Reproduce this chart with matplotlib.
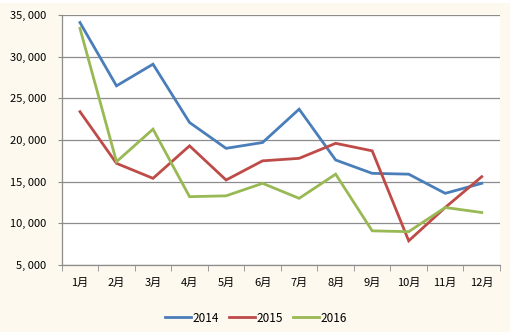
import matplotlib.pyplot as plt
from matplotlib.patches import Rectangle
from matplotlib.ticker import FuncFormatter, FixedLocator

plt.rcParams['font.family'] = ['Liberation Sans Narrow', 'Noto Sans CJK SC', 'DejaVu Sans']

# monthly figures, three years
months = ['1月', '2月', '3月', '4月', '5月', '6月', '7月', '8月', '9月', '10月', '11月', '12月']
y2014 = [34100, 26500, 29100, 22100, 19000, 19700, 23700, 17600, 16000, 15900, 13600, 14800]
y2015 = [23400, 17200, 15400, 19300, 15200, 17500, 17800, 19600, 18700, 7900, 11900, 15600]
y2016 = [33400, 17400, 21300, 13200, 13300, 14800, 13000, 15900, 9100, 9000, 11900, 11300]

series = [('2014', y2014, '#4A7EBB'),
          ('2015', y2015, '#BE4B48'),
          ('2016', y2016, '#98B954')]

fig = plt.figure(figsize=(5.12, 3.32), dpi=100, facecolor='white')
fig.patches.append(Rectangle((0, 0), 510 / 512, 329 / 332, transform=fig.transFigure,
                             facecolor='#FDF9EE', edgecolor='none', zorder=-10))
ax = fig.add_axes([0.1205, 0.2018, 0.8561, 0.753])
ax.set_facecolor('white')

x = range(len(months))
for name, vals, col in series:
    ax.plot(x, vals, color=col, linewidth=2.0, label=name, solid_joinstyle='miter')

ax.set_xlim(-0.5, 11.5)
ax.set_ylim(5000, 35000)
ax.set_yticks(range(5000, 35001, 5000))
ax.yaxis.set_major_formatter(FuncFormatter(lambda v, p: '{:,}'.format(int(v)).replace(',', ', ')))
ax.yaxis.grid(True, color='#8C8C8C', linewidth=0.9)
ax.set_axisbelow(True)

ax.set_xticks(list(x))
ax.set_xticklabels(months)
ax.xaxis.set_minor_locator(FixedLocator([i - 0.5 for i in range(13)]))
ax.tick_params(axis='x', which='major', length=0, pad=9, labelsize=8)
ax.tick_params(axis='x', which='minor', length=4, color='#8C8C8C', direction='out')
ax.tick_params(axis='y', length=3, color='#8C8C8C', labelsize=8, pad=8)

for s in ['top', 'right']:
    ax.spines[s].set_visible(False)
for s in ['left', 'bottom']:
    ax.spines[s].set_color('#8C8C8C')
    ax.spines[s].set_linewidth(0.9)

fig.legend(loc='center', bbox_to_anchor=(0.5, 0.042), ncol=3, frameon=False,
           fontsize=8.5, handlelength=2.2, handletextpad=0.1, columnspacing=0.9)

fig.savefig('out.png', dpi=100, facecolor=fig.get_facecolor())
